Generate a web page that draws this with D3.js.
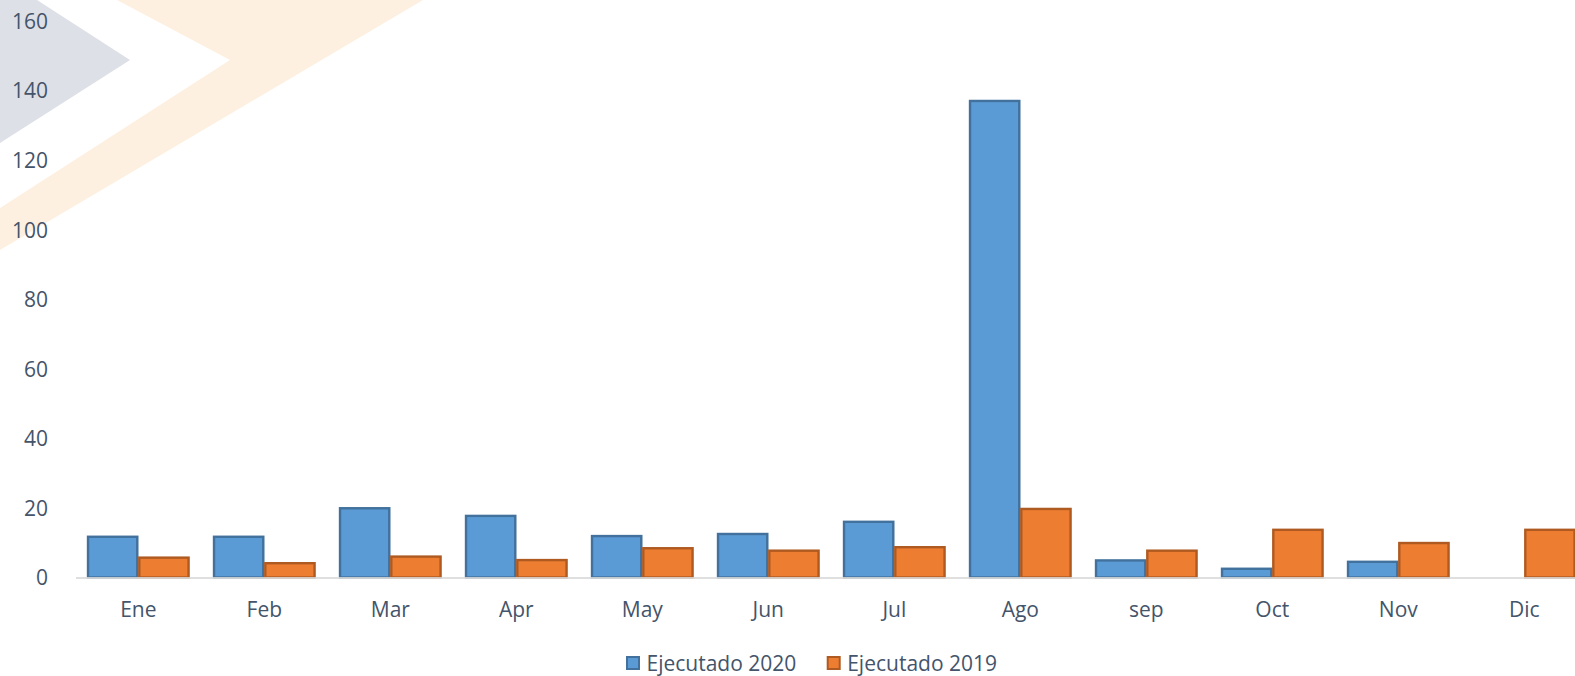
<!DOCTYPE html>
<html>
<head>
<meta charset="utf-8">
<script src="https://cdn.jsdelivr.net/npm/d3@7/dist/d3.min.js"></script>
<style>
  html, body { margin: 0; padding: 0; background: #ffffff; overflow: hidden; }
  svg { display: block; }
  text { font-family: "Open Sans", "Noto Sans", sans-serif; fill: #44546a; }
</style>
</head>
<body>
<svg id="chart" width="1575" height="676"></svg>
<script>
const months = ["Ene", "Feb", "Mar", "Apr", "May", "Jun", "Jul", "Ago", "sep", "Oct", "Nov", "Dic"];
const seriesNames = ["Ejecutado 2020", "Ejecutado 2019"];
const values2020 = [12, 12, 20.2, 18, 12.2, 12.8, 16.3, 137.3, 5.2, 2.8, 4.8, null];
const values2019 = [6, 4.4, 6.3, 5.3, 8.7, 8, 9, 20, 8, 14, 10.2, 14];
const yTicks = [0, 20, 40, 60, 80, 100, 120, 140, 160];

const fills = ["#5b9bd5", "#ed7d31"];
const strokes = ["#41719c", "#ae5a21"];

const svg = d3.select("#chart");

// decorative background chevrons
svg.append("polygon")
  .attr("points", "0,0 37,0 130,60 0,143")
  .attr("fill", "#dde0e7");
svg.append("polygon")
  .attr("points", "117,0 423,0 0,250 0,208 230,60")
  .attr("fill", "#fef0e0");

const y = d3.scaleLinear().domain([0, 160]).range([577.5, 21]);
const x0 = d3.scaleBand().domain(months).range([75.3, 1587.3]).paddingInner(0.186).paddingOuter(0.093);
const x1 = d3.scaleBand().domain(seriesNames).range([0, x0.bandwidth()]);

const data = months.map((m, i) => ({ m, vals: [values2020[i], values2019[i]] }));

// y axis labels
const yAxis = d3.axisLeft(y).tickValues(yTicks).tickSize(0).tickPadding(0);
const gy = svg.append("g").attr("transform", "translate(48,0)").call(yAxis);
gy.select(".domain").remove();
gy.selectAll("text").style("font-size", "21px").attr("fill", "#44546a").attr("dy", "0.35em")
  .style("font-family", '"Open Sans", sans-serif');

// bars
const groups = svg.append("g").selectAll("g").data(data).join("g")
  .attr("transform", d => `translate(${x0(d.m)},0)`);
groups.selectAll("rect")
  .data(d => d.vals.map((v, k) => ({ v, k })).filter(e => e.v != null))
  .join("rect")
  .attr("x", e => x1(seriesNames[e.k]) + 1)
  .attr("y", e => y(e.v) + 1)
  .attr("width", x1.bandwidth() - 2)
  .attr("height", e => Math.max(0, y(0) - y(e.v) - 1))
  .attr("fill", e => fills[e.k])
  .attr("stroke", e => strokes[e.k])
  .attr("stroke-width", 2.4);

// x axis line
const xAxis = d3.axisBottom(x0).tickSize(0).tickPadding(0);
const gx = svg.append("g").attr("transform", `translate(0,${y(0)})`).call(xAxis);
gx.select(".domain").remove();
gx.append("line")
  .attr("x1", 76).attr("x2", 1587)
  .attr("y1", 0.5).attr("y2", 0.5)
  .attr("stroke", "#d9d9d9").attr("stroke-width", 2).attr("opacity", 0.85);
gx.selectAll(".tick text").style("font-size", "21px").attr("fill", "#44546a")
  .attr("y", 39.5).attr("dy", 0)
  .style("font-family", '"Open Sans", sans-serif');

// legend
const legendX = [626, 826.7];
const lg = svg.append("g").selectAll("g").data(seriesNames).join("g")
  .attr("transform", (d, i) => `translate(${legendX[i]},656)`);
lg.append("rect")
  .attr("x", 1).attr("y", 1).attr("width", 12).attr("height", 12)
  .attr("fill", (d, i) => fills[i]).attr("stroke", (d, i) => strokes[i]).attr("stroke-width", 2);
lg.append("text")
  .attr("x", 20.5).attr("y", 14.5)
  .style("font-size", "21px")
  .text(d => d);
</script>
</body>
</html>
